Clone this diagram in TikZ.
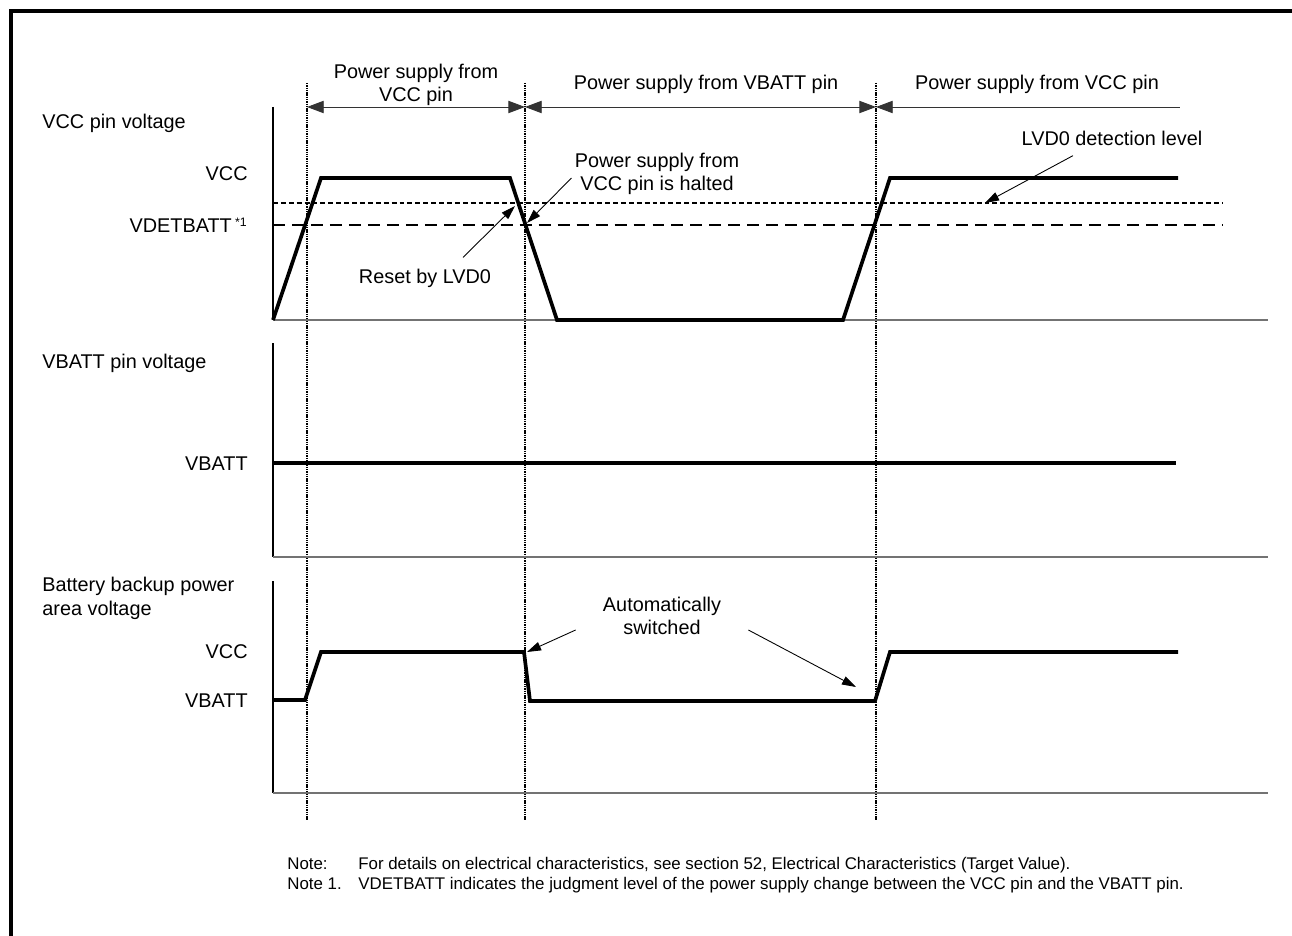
\documentclass[tikz,border=0pt]{standalone}
\usepackage{fontspec}
\setmainfont{Liberation Sans}
\usetikzlibrary{arrows.meta, calc, positioning}

\begin{document}
\begin{tikzpicture}[
    x=0.02cm, y=-0.02cm,
    >={Triangle[length=9.5pt, width=7pt]},
    every node/.style={font=\fontsize{11.3}{13.5}\selectfont, inner sep=0pt},
    lbl/.style ={align=center},
    lvl/.style ={anchor=base east},
    ttl/.style ={anchor=base west, align=left},
    note/.style={anchor=base west, font=\fontsize{9.6}{11}\selectfont},
    axisline/.style={line width=0.6pt},
    hline/.style={line width=0.7pt, black!55},
    wave/.style={line width=2.1pt, line join=miter},
    vmark/.style={line width=0.9pt, dash pattern=on 0.8pt off 0.5pt},
    lvdline/.style={line width=0.8pt, dash pattern=on 2.8pt off 1.7pt},
    detline/.style={line width=1.1pt, dash pattern=on 6.8pt off 4pt},
    dim/.style ={<->, line width=0.5pt, black!80},
    call/.style={->, line width=0.5pt, >={Triangle[length=8pt, width=5pt]}},
    frameline/.style={line width=2.1pt},
]
\path[use as bounding box, fill=white] (0,0) rectangle (1292,936);
\draw[frameline] (11,936) -- (11,11) -- (1292,11);

% --- phase boundaries and spans ---
\foreach \n/\x in {a/307, b/525, c/876} {
  \coordinate (t\n) at (\x,83);
  \coordinate (e\n) at (\x,820);
  \coordinate (s\n) at (\x,107);
  \draw[vmark] (t\n) -- (e\n);
}
\coordinate (sd) at (1180,107);
\draw[dim] (sa) -- (sb);
\draw[dim] (sb) -- (sc);
\draw[dim, <-] (sc) -- (sd);
\node[lbl] (ph1) at (416,85) {Power supply from\\VCC pin};
\node[lbl] (ph2) at (706,84) {Power supply from VBATT pin};
\node[lbl] (ph3) at (1037,84) {Power supply from VCC pin};

% --- VCC pin voltage ---
\node[ttl] (vccttl) at (42,129) {VCC pin voltage};
\node[lvl] (vcclv) at (248,180) {VCC};
\node[lvl] (detlv) at (248,233) {VDETBATT\,\textsuperscript{\fontsize{7}{8}\selectfont *1}};
\draw[axisline] (273,107) -- (273,320);
\draw[hline] (273,320) -- (1268,320);
\draw[lvdline] (273,203) -- (1223,203);
\draw[detline] (273,225) -- (1222,225);
\draw[wave] (273,320) -- (321,178) -- (510,178) -- (557,320)
            -- (843,320) -- (890,178) -- (1178,178);
\coordinate (tipR) at (515,206);
\coordinate (tipH) at (527,223);
\coordinate (tipL) at (985,203);
\node[lbl] (rst)  at (425,278) {Reset by LVD0};
\node[lbl] (halt) at (657,174) {Power supply from\\VCC pin is halted};
\node[lbl] (lvd)  at (1112,138) {LVD0 detection level};
\draw[call] ($(rst.north)+(38,-11)$) -- (tipR);
\draw[call] ($(halt.west)+(-3,4)$) -- (tipH);
\draw[call] ($(lvd.south)+(-39,10)$) -- (tipL);

% --- VBATT pin voltage ---
\node[ttl] (batttl) at (42,368) {VBATT pin voltage};
\node[lvl] (batlv) at (248,470) {VBATT};
\draw[axisline] (273,343) -- (273,557);
\draw[hline] (273,557) -- (1268,557);
\draw[wave] (273,463) -- (1176,463);

% --- battery backup power area ---
\node[ttl, anchor=north west] (bkpttl) at (42,577) {Battery backup power\\area voltage};
\node[lvl] (bkvcc) at (248,658) {VCC};
\node[lvl] (bkbat) at (248,707) {VBATT};
\draw[axisline] (273,581) -- (273,793);
\draw[hline] (273,793) -- (1268,793);
\draw[wave] (273,700) -- (305,700) -- (321,652) -- (524,652) -- (530,701)
            -- (875,701) -- (890,652) -- (1178,652);
\coordinate (tipA) at (527,652);
\coordinate (tipB) at (856,687);
\node[lbl] (auto) at (662,616) {Automatically\\switched};
\draw[call] ($(auto.west)+(-27,14)$) -- (tipA);
\draw[call] ($(auto.east)+(27,14)$) -- (tipB);

% --- notes ---
\node[note] (n0)  at (287,869) {Note:};
\node[note] (n0t) at (358,869) {For details on electrical characteristics, see section 52, Electrical Characteristics (Target Value).};
\node[note] (n1)  at (287,889) {Note 1.};
\node[note] (n1t) at (358,889) {VDETBATT indicates the judgment level of the power supply change between the VCC pin and the VBATT pin.};
\end{tikzpicture}
\end{document}
